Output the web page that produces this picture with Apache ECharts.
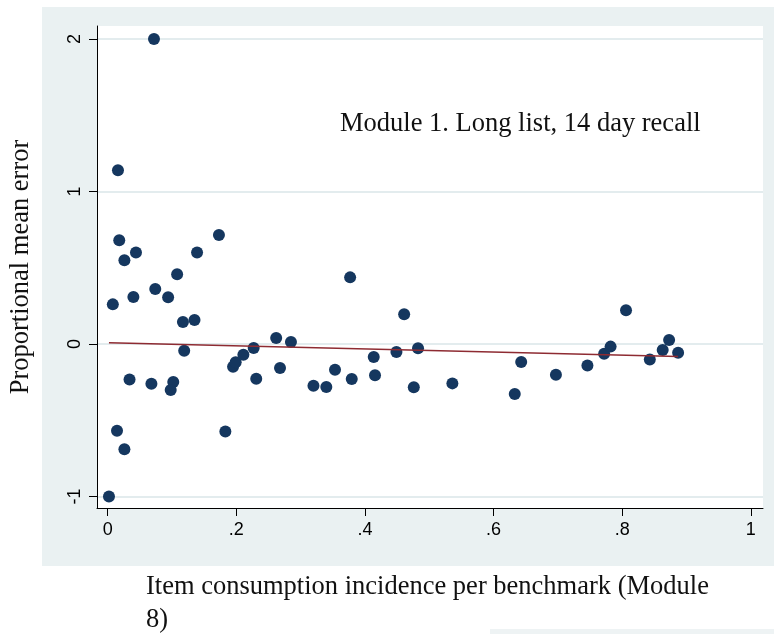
<!DOCTYPE html>
<html>
<head>
<meta charset="utf-8">
<script src="https://cdn.jsdelivr.net/npm/echarts@6/dist/echarts.min.js"></script>
<style>
  html, body { margin: 0; padding: 0; background: #fff; }
  #chart { width: 774px; height: 634px; }
</style>
</head>
<body>
<div id="chart"></div>
<script>
// incidence per benchmark (Module 8) and proportional mean error
const incidence = [
  0.002, 0.072, 0.016, 0.018, 0.026, 0.044, 0.173, 0.139, 0.108, 0.008,
  0.040, 0.074, 0.094, 0.117, 0.135, 0.119, 0.034, 0.068, 0.102, 0.098,
  0.0145, 0.026, 0.183, 0.195, 0.199, 0.211, 0.227, 0.231, 0.262, 0.285,
  0.268, 0.320, 0.340, 0.3535, 0.3795, 0.377, 0.461, 0.4137, 0.4157, 0.449,
  0.4826, 0.476, 0.536, 0.633, 0.643, 0.697, 0.746, 0.772, 0.782, 0.806,
  0.843, 0.863, 0.873, 0.887
]
const meanError = [
  -1.0, 2.0, 1.14, 0.68, 0.55, 0.60, 0.715, 0.60, 0.457, 0.26,
  0.308, 0.36, 0.306, 0.144, 0.157, -0.044, -0.232, -0.26, -0.249, -0.302,
  -0.568, -0.69, -0.573, -0.149, -0.12, -0.07, -0.026, -0.227, 0.039, 0.013,
  -0.157, -0.274, -0.282, -0.168, -0.23, 0.437, 0.195, -0.085, -0.205, -0.052,
  -0.028, -0.284, -0.258, -0.328, -0.118, -0.201, -0.14, -0.064, -0.017, 0.221,
  -0.101, -0.039, 0.026, -0.057
]
// fitted line ends
const fitX = [0.002, 0.887]
const fitY = [0.008, -0.082]

const xTicks = [0, 0.2, 0.4, 0.6, 0.8, 1]
const xTickLabels = ['0', '.2', '.4', '.6', '.8', '1']
const yTicks = [-1, 0, 1, 2]
const yTickLabels = ['-1', '0', '1', '2']

const serif = '"Liberation Serif", "Times New Roman", serif'
const sans = '"Liberation Sans", Arial, Helvetica, sans-serif'

const chart = echarts.init(document.getElementById('chart'))
chart.setOption({
  animation: false,
  backgroundColor: '#fff',
  graphic: [
    { type: 'rect', z: -10, silent: true, shape: { x: 42, y: 7, width: 732, height: 559 }, style: { fill: '#eaf1f2' } },
    { type: 'rect', z: -10, silent: true, shape: { x: 490, y: 629, width: 284, height: 5 }, style: { fill: '#eef3f4' } },
    { type: 'text', left: 340, top: 111, style: { text: 'Module 1. Long list, 14 day recall', font: '26.5px ' + serif, fill: '#111' } },
    { type: 'text', left: 146, top: 571, style: { text: 'Item consumption incidence per benchmark (Module\n8)', font: '26.5px ' + serif, lineHeight: 33, fill: '#111' } }
  ],
  grid: { left: 97, top: 26, right: 11, bottom: 126, show: true, backgroundColor: '#fff', borderWidth: 0 },
  xAxis: {
    type: 'value', min: -0.0166, max: 1.019,
    axisLine: { show: true, onZero: false, lineStyle: { color: '#000', width: 1 } },
    axisTick: { show: true, length: 8, customValues: xTicks, lineStyle: { color: '#000' } },
    axisLabel: {
      customValues: xTicks, margin: 13, color: '#000', fontSize: 18, fontFamily: sans,
      formatter: v => xTickLabels[xTicks.indexOf(v)]
    },
    splitLine: { show: false }
  },
  yAxis: {
    type: 'value', min: -1.075, max: 2.085,
    name: 'Proportional mean error', nameLocation: 'middle', nameGap: 62, nameRotate: 90,
    nameTextStyle: { fontFamily: serif, fontSize: 26.5, color: '#111' },
    axisLine: { show: true, onZero: false, lineStyle: { color: '#000', width: 1 } },
    axisTick: { show: true, length: 8, customValues: yTicks, lineStyle: { color: '#000' } },
    axisLabel: {
      customValues: yTicks, rotate: 90, margin: 13, color: '#000', fontSize: 18, fontFamily: sans,
      formatter: v => yTickLabels[yTicks.indexOf(v)]
    },
    splitLine: { show: true, lineStyle: { color: '#e3ecee', width: 2 } }
  },
  series: [
    {
      type: 'scatter', symbol: 'circle', symbolSize: 12,
      itemStyle: { color: '#15375f', opacity: 1 },
      data: incidence.map((x, i) => [x, meanError[i]])
    },
    {
      type: 'line', symbol: 'none',
      lineStyle: { color: '#8e2b32', width: 1.6 },
      data: fitX.map((x, i) => [x, fitY[i]])
    }
  ]
})
</script>
</body>
</html>
